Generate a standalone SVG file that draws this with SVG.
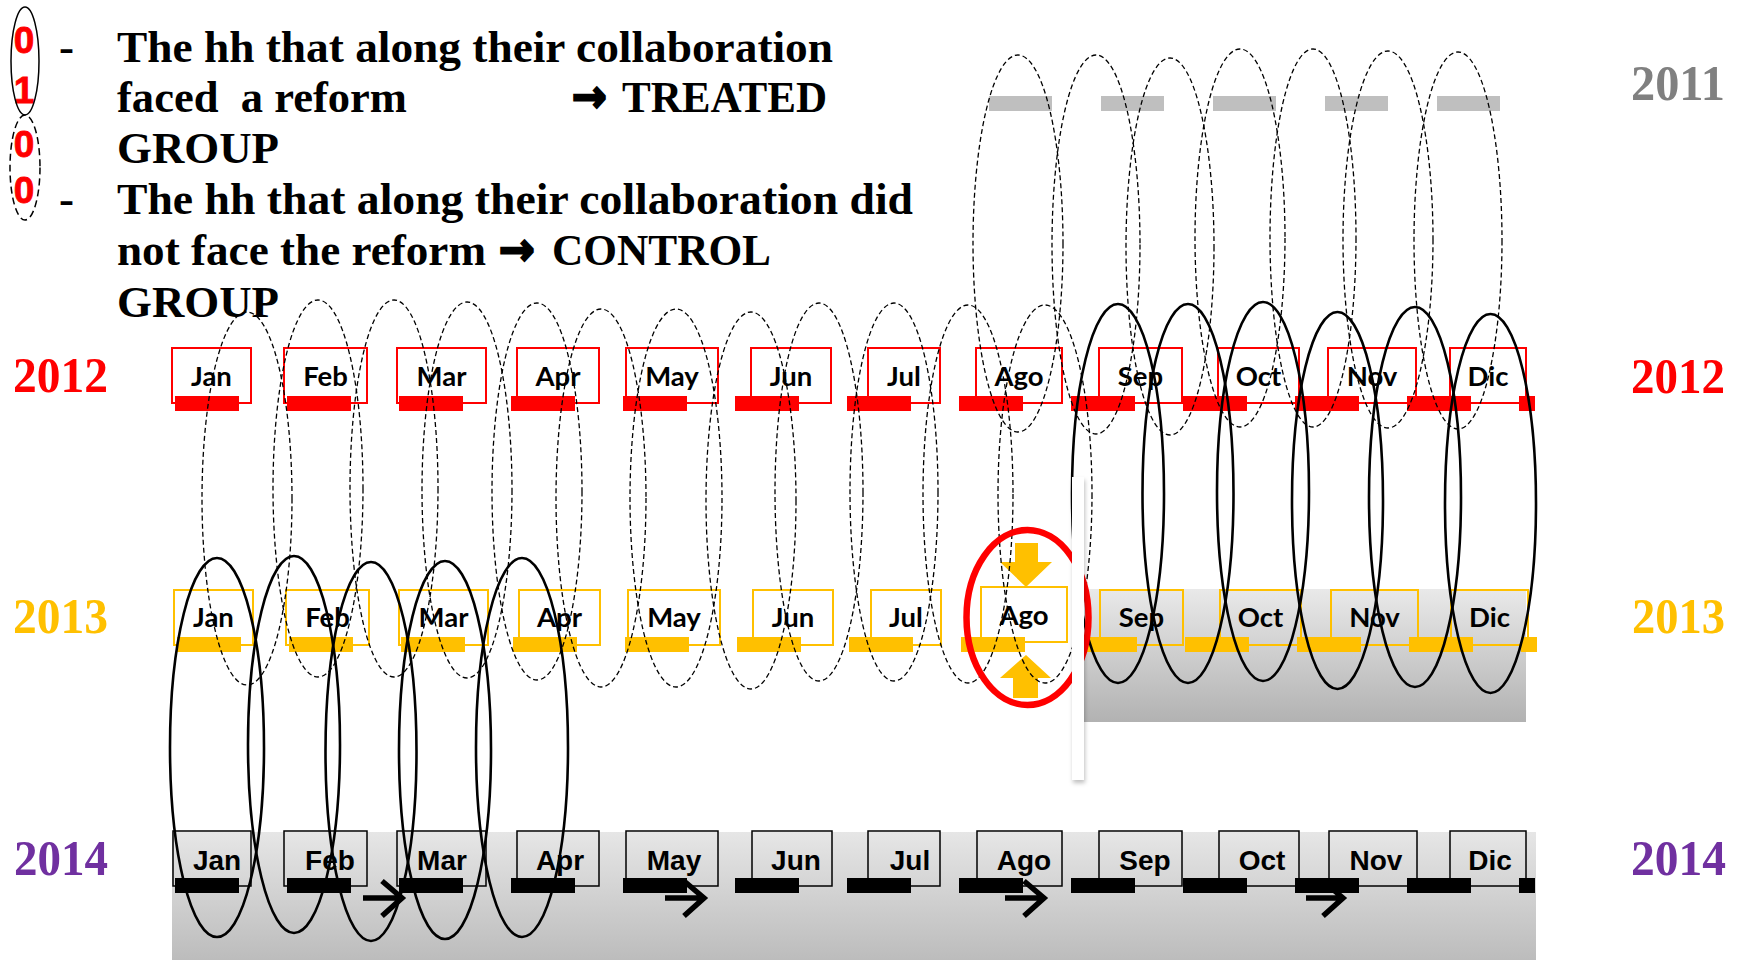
<svg xmlns="http://www.w3.org/2000/svg" width="1739" height="960" viewBox="0 0 1739 960">
  <style>
    .legend { font-family: 'Liberation Serif', 'Times New Roman', serif; font-weight: bold; font-size: 45px; fill: #000; }
    .arrowch { font-family: 'DejaVu Sans', sans-serif; font-weight: bold; font-size: 46px; fill: #000; stroke: #000; stroke-width: 2.2; }
    .digit { font-family: 'Liberation Sans', Arial, sans-serif; font-weight: bold; font-size: 37px; fill: #FF0000; stroke: #FF0000; stroke-width: 0.8; text-anchor: middle; }
    .year { font-family: 'Liberation Serif', 'Times New Roman', serif; font-weight: bold; font-size: 50px; }
    .y11 { fill: #808080; } .y12 { fill: #FF0000; } .y13 { fill: #FFC000; } .y14 { fill: #7030A0; }
    .box12 { fill: none; stroke: #FF0000; stroke-width: 2; }
    .box13 { fill: none; stroke: #FFC000; stroke-width: 2; }
    .box14 { fill: none; stroke: #000; stroke-width: 1.5; }
    .bar11 { fill: #BFBFBF; }
    .bar12 { fill: #FF0000; }
    .bar13 { fill: #FFC000; }
    .bar14 { fill: #000; }
    .mon { font-family: Lato, 'Open Sans', sans-serif; font-weight: bold; font-size: 27.5px; fill: #000; text-anchor: middle; }
    .mon14 { font-family: 'Liberation Sans', Arial, sans-serif; font-weight: bold; font-size: 28px; fill: #000; text-anchor: middle; }
    .dash { fill: none; stroke: #000; stroke-width: 1.3; stroke-dasharray: 5 3; }
    .solid { fill: none; stroke: #000; stroke-width: 2.6; }
    .harrow { fill: none; stroke: #000; stroke-width: 5.5; }
  </style>
  <defs>
    <linearGradient id="grey13" x1="0" y1="0" x2="0" y2="1">
      <stop offset="0" stop-color="#E9E9E9"/>
      <stop offset="1" stop-color="#B2B2B2"/>
    </linearGradient>
    <linearGradient id="grey14" x1="0" y1="0" x2="0" y2="1">
      <stop offset="0" stop-color="#E6E6E6"/>
      <stop offset="1" stop-color="#BCBCBC"/>
    </linearGradient>
    <filter id="shadow" x="-100%" y="-10%" width="300%" height="120%">
      <feDropShadow dx="1" dy="3" stdDeviation="2" flood-color="#000" flood-opacity="0.25"/>
    </filter>
  </defs>

  <rect x="0" y="0" width="1739" height="960" fill="#FFFFFF"/>

  <!-- shaded backgrounds -->
  <rect id="shade-2013" x="1084" y="589" width="442" height="133" fill="url(#grey13)"/>
  <rect id="shade-2014" x="172" y="832" width="1364" height="128" fill="url(#grey14)"/>

  <!-- legend -->
  <g id="legend">
    <text class="digit" x="24" y="53">0</text>
    <text class="digit" x="24" y="103">1</text>
    <text class="digit" x="24" y="157">0</text>
    <text class="digit" x="24" y="203">0</text>
    <ellipse cx="25" cy="61" rx="14" ry="54" fill="none" stroke="#000" stroke-width="1.5"/>
    <ellipse cx="25" cy="167.5" rx="15" ry="52.5" fill="none" stroke="#000" stroke-width="1.5" stroke-dasharray="7 4"/>
    <text class="legend" x="59" y="62">-</text>
    <text class="legend" x="59" y="214">-</text>
    <text class="legend" x="117" y="62" textLength="716" lengthAdjust="spacingAndGlyphs">The hh that along their collaboration</text>
    <text class="legend" x="117" y="112" textLength="290" lengthAdjust="spacingAndGlyphs" xml:space="preserve">faced  a reform</text>
    <text class="arrowch" x="572" y="112" textLength="35" lengthAdjust="spacingAndGlyphs">→</text>
    <text class="legend" x="622" y="112" textLength="205" lengthAdjust="spacingAndGlyphs">TREATED</text>
    <text class="legend" x="117" y="163" textLength="162" lengthAdjust="spacingAndGlyphs">GROUP</text>
    <text class="legend" x="117" y="214" textLength="796" lengthAdjust="spacingAndGlyphs">The hh that along their collaboration did</text>
    <text class="legend" x="117" y="265" textLength="369" lengthAdjust="spacingAndGlyphs">not face the reform</text>
    <text class="arrowch" x="499" y="265" textLength="36" lengthAdjust="spacingAndGlyphs">→</text>
    <text class="legend" x="552" y="265" textLength="219" lengthAdjust="spacingAndGlyphs">CONTROL</text>
    <text class="legend" x="117" y="317" textLength="162" lengthAdjust="spacingAndGlyphs">GROUP</text>
  </g>

  <!-- year labels -->
  <g id="years">
    <text class="year y11" x="1631" y="100" textLength="94" lengthAdjust="spacingAndGlyphs">2011</text>
    <text class="year y12" x="13" y="392" textLength="95" lengthAdjust="spacingAndGlyphs">2012</text>
    <text class="year y12" x="1631" y="393" textLength="94" lengthAdjust="spacingAndGlyphs">2012</text>
    <text class="year y13" x="13" y="633" textLength="95" lengthAdjust="spacingAndGlyphs">2013</text>
    <text class="year y13" x="1632" y="633" textLength="93" lengthAdjust="spacingAndGlyphs">2013</text>
    <text class="year y14" x="14" y="875" textLength="94" lengthAdjust="spacingAndGlyphs">2014</text>
    <text class="year y14" x="1631" y="875" textLength="95" lengthAdjust="spacingAndGlyphs">2014</text>
  </g>

  <!-- 2011 row -->
  <g id="row-2011">
    <rect class="bar11" x="989" y="96" width="63" height="15"/>
    <rect class="bar11" x="1101" y="96" width="63" height="15"/>
    <rect class="bar11" x="1213" y="96" width="63" height="15"/>
    <rect class="bar11" x="1325" y="96" width="63" height="15"/>
    <rect class="bar11" x="1437" y="96" width="63" height="15"/>
  </g>

  <!-- 2012 row -->
  <g id="row-2012">
    <g id="m2012-jan"><rect class="box12" x="172" y="348" width="79" height="55"/><rect class="bar12" x="175" y="396" width="64" height="15"/><text class="mon" x="211.5" y="386">Jan</text></g>
    <g id="m2012-feb"><rect class="box12" x="284" y="348" width="83" height="55"/><rect class="bar12" x="287" y="396" width="64" height="15"/><text class="mon" x="325.5" y="386">Feb</text></g>
    <g id="m2012-mar"><rect class="box12" x="397" y="348" width="89" height="55"/><rect class="bar12" x="399" y="396" width="64" height="15"/><text class="mon" x="441.5" y="386">Mar</text></g>
    <g id="m2012-apr"><rect class="box12" x="517" y="348" width="82" height="55"/><rect class="bar12" x="511" y="396" width="64" height="15"/><text class="mon" x="558" y="386">Apr</text></g>
    <g id="m2012-may"><rect class="box12" x="626" y="348" width="92" height="55"/><rect class="bar12" x="623" y="396" width="64" height="15"/><text class="mon" x="672" y="386">May</text></g>
    <g id="m2012-jun"><rect class="box12" x="751" y="348" width="80" height="55"/><rect class="bar12" x="735" y="396" width="64" height="15"/><text class="mon" x="791" y="386">Jun</text></g>
    <g id="m2012-jul"><rect class="box12" x="868" y="348" width="72" height="55"/><rect class="bar12" x="847" y="396" width="64" height="15"/><text class="mon" x="904" y="386">Jul</text></g>
    <g id="m2012-ago"><rect class="box12" x="976" y="348" width="86" height="55"/><rect class="bar12" x="959" y="396" width="64" height="15"/><text class="mon" x="1019" y="386">Ago</text></g>
    <g id="m2012-sep"><rect class="box12" x="1099" y="348" width="83" height="55"/><rect class="bar12" x="1071" y="396" width="64" height="15"/><text class="mon" x="1140.5" y="386">Sep</text></g>
    <g id="m2012-oct"><rect class="box12" x="1218" y="348" width="81" height="55"/><rect class="bar12" x="1183" y="396" width="64" height="15"/><text class="mon" x="1258.5" y="386">Oct</text></g>
    <g id="m2012-nov"><rect class="box12" x="1328" y="348" width="88" height="55"/><rect class="bar12" x="1295" y="396" width="64" height="15"/><text class="mon" x="1372" y="386">Nov</text></g>
    <g id="m2012-dic"><rect class="box12" x="1450" y="348" width="76" height="55"/><rect class="bar12" x="1407" y="396" width="64" height="15"/><text class="mon" x="1488" y="386">Dic</text></g>
    <rect class="bar12" x="1519" y="396" width="16" height="15"/>
  </g>

  <!-- 2013 row -->
  <g id="row-2013">
    <g id="m2013-jan"><rect class="box13" x="174" y="590" width="79" height="55"/><rect class="bar13" x="177" y="637" width="64" height="15"/><text class="mon" x="213.5" y="627">Jan</text></g>
    <g id="m2013-feb"><rect class="box13" x="286" y="590" width="83" height="55"/><rect class="bar13" x="289" y="637" width="64" height="15"/><text class="mon" x="327.5" y="627">Feb</text></g>
    <g id="m2013-mar"><rect class="box13" x="399" y="590" width="89" height="55"/><rect class="bar13" x="401" y="637" width="64" height="15"/><text class="mon" x="443.5" y="627">Mar</text></g>
    <g id="m2013-apr"><rect class="box13" x="519" y="590" width="81" height="55"/><rect class="bar13" x="513" y="637" width="64" height="15"/><text class="mon" x="559.5" y="627">Apr</text></g>
    <g id="m2013-may"><rect class="box13" x="628" y="590" width="92" height="55"/><rect class="bar13" x="625" y="637" width="64" height="15"/><text class="mon" x="674" y="627">May</text></g>
    <g id="m2013-jun"><rect class="box13" x="753" y="590" width="80" height="55"/><rect class="bar13" x="737" y="637" width="64" height="15"/><text class="mon" x="793" y="627">Jun</text></g>
    <g id="m2013-jul"><rect class="box13" x="871" y="590" width="70" height="55"/><rect class="bar13" x="849" y="637" width="64" height="15"/><text class="mon" x="906" y="627">Jul</text></g>
    <g id="m2013-ago"><rect class="box13" x="981" y="587" width="86" height="55"/><rect class="bar13" x="961" y="637" width="64" height="15"/><text class="mon" x="1024" y="625">Ago</text></g>
    <g id="m2013-sep"><rect class="box13" x="1100" y="590" width="83" height="55"/><rect class="bar13" x="1073" y="637" width="64" height="15"/><text class="mon" x="1141.5" y="627">Sep</text></g>
    <g id="m2013-oct"><rect class="box13" x="1220" y="590" width="81" height="55"/><rect class="bar13" x="1185" y="637" width="64" height="15"/><text class="mon" x="1260.5" y="627">Oct</text></g>
    <g id="m2013-nov"><rect class="box13" x="1331" y="590" width="87" height="55"/><rect class="bar13" x="1297" y="637" width="64" height="15"/><text class="mon" x="1374.5" y="627">Nov</text></g>
    <g id="m2013-dic"><rect class="box13" x="1451" y="590" width="77" height="55"/><rect class="bar13" x="1409" y="637" width="64" height="15"/><text class="mon" x="1489.5" y="627">Dic</text></g>
    <rect class="bar13" x="1521" y="637" width="16" height="15"/>
  </g>

  <!-- 2014 row -->
  <g id="row-2014">
    <g id="m2014-jan"><rect class="box14" x="173" y="831" width="78" height="55"/><rect class="bar14" x="175" y="878" width="64" height="15"/><text class="mon14" x="217" y="870">Jan</text></g>
    <g id="m2014-feb"><rect class="box14" x="284" y="831" width="83" height="55"/><rect class="bar14" x="287" y="878" width="64" height="15"/><text class="mon14" x="330" y="870">Feb</text></g>
    <g id="m2014-mar"><rect class="box14" x="397" y="831" width="89" height="55"/><rect class="bar14" x="399" y="878" width="64" height="15"/><text class="mon14" x="442" y="870">Mar</text></g>
    <g id="m2014-apr"><rect class="box14" x="517" y="831" width="82" height="55"/><rect class="bar14" x="511" y="878" width="64" height="15"/><text class="mon14" x="560" y="870">Apr</text></g>
    <g id="m2014-may"><rect class="box14" x="626" y="831" width="92" height="55"/><rect class="bar14" x="623" y="878" width="64" height="15"/><text class="mon14" x="674" y="870">May</text></g>
    <g id="m2014-jun"><rect class="box14" x="752" y="831" width="80" height="55"/><rect class="bar14" x="735" y="878" width="64" height="15"/><text class="mon14" x="796" y="870">Jun</text></g>
    <g id="m2014-jul"><rect class="box14" x="868" y="831" width="72" height="55"/><rect class="bar14" x="847" y="878" width="64" height="15"/><text class="mon14" x="910" y="870">Jul</text></g>
    <g id="m2014-ago"><rect class="box14" x="977" y="831" width="85" height="55"/><rect class="bar14" x="959" y="878" width="64" height="15"/><text class="mon14" x="1024" y="870">Ago</text></g>
    <g id="m2014-sep"><rect class="box14" x="1099" y="831" width="83" height="55"/><rect class="bar14" x="1071" y="878" width="64" height="15"/><text class="mon14" x="1145" y="870">Sep</text></g>
    <g id="m2014-oct"><rect class="box14" x="1219" y="831" width="80" height="55"/><rect class="bar14" x="1183" y="878" width="64" height="15"/><text class="mon14" x="1262" y="870">Oct</text></g>
    <g id="m2014-nov"><rect class="box14" x="1329" y="831" width="88" height="55"/><rect class="bar14" x="1295" y="878" width="64" height="15"/><text class="mon14" x="1376" y="870">Nov</text></g>
    <g id="m2014-dic"><rect class="box14" x="1450" y="831" width="76" height="55"/><rect class="bar14" x="1407" y="878" width="64" height="15"/><text class="mon14" x="1490" y="870">Dic</text></g>
    <rect class="bar14" x="1519" y="878" width="16" height="15"/>
    <!-- step arrows along 2014 -->
    <path class="harrow" d="M363,898 H401 M382,881 L402,898 L382,916"/>
    <path class="harrow" d="M665,898 H703 M684,881 L704,898 L684,916"/>
    <path class="harrow" d="M1005,898 H1043 M1024,881 L1044,898 L1024,916"/>
    <path class="harrow" d="M1306,898 H1343 M1323,881 L1343,898 L1323,916"/>
  </g>

  <!-- reform marker on 2013 Ago -->
  <g id="reform-arrows" fill="#FFC000">
    <polygon points="1015,543 1038,543 1038,562 1052,562 1026,587 1000,562 1015,562"/>
    <polygon points="1026,655 1051,678 1038,678 1038,698 1013,698 1013,678 1000,678"/>
  </g>

  <!-- links between years -->
  <g id="connectors">
    <!-- 2011 to 2012, dashed -->
    <ellipse class="dash" cx="1018" cy="243.5" rx="45" ry="188.5"/>
    <ellipse class="dash" cx="1096" cy="244.5" rx="44" ry="189.5"/>
    <ellipse class="dash" cx="1170" cy="246.5" rx="44" ry="188.5"/>
    <ellipse class="dash" cx="1240" cy="238" rx="45" ry="189"/>
    <ellipse class="dash" cx="1313" cy="238" rx="43" ry="189"/>
    <ellipse class="dash" cx="1388" cy="239.5" rx="45" ry="188.5"/>
    <ellipse class="dash" cx="1458" cy="240.5" rx="44" ry="188.5"/>
    <!-- 2012 to 2013, dashed -->
    <ellipse class="dash" cx="247" cy="498.5" rx="45" ry="186.5"/>
    <ellipse class="dash" cx="318" cy="488.5" rx="45" ry="188.5"/>
    <ellipse class="dash" cx="394" cy="488.5" rx="44" ry="188.5"/>
    <ellipse class="dash" cx="467" cy="490" rx="45" ry="188"/>
    <ellipse class="dash" cx="537" cy="491.5" rx="45" ry="188.5"/>
    <ellipse class="dash" cx="601" cy="498" rx="45" ry="189"/>
    <ellipse class="dash" cx="676" cy="498" rx="46" ry="189"/>
    <ellipse class="dash" cx="751" cy="500.5" rx="45" ry="188.5"/>
    <ellipse class="dash" cx="819" cy="492" rx="44" ry="189"/>
    <ellipse class="dash" cx="894" cy="492" rx="44" ry="189"/>
    <ellipse class="dash" cx="968" cy="494" rx="45" ry="189"/>
    <ellipse class="dash" cx="1045" cy="494" rx="47" ry="189"/>
    <!-- 2012 to 2013, solid -->
    <ellipse class="solid" cx="1118" cy="493.5" rx="46" ry="189.5"/>
    <ellipse class="solid" cx="1188" cy="493.5" rx="45.5" ry="189.5"/>
    <ellipse class="solid" cx="1263" cy="491.5" rx="46" ry="189.5"/>
    <ellipse class="solid" cx="1337.5" cy="500.5" rx="45.5" ry="188.5"/>
    <ellipse class="solid" cx="1415" cy="497" rx="46" ry="190"/>
    <ellipse class="solid" cx="1490.5" cy="503.5" rx="45.5" ry="189.5"/>
    <!-- 2013 to 2014, solid -->
    <ellipse class="solid" cx="217" cy="747.5" rx="47" ry="189.5"/>
    <ellipse class="solid" cx="294" cy="744.5" rx="46" ry="188.5"/>
    <ellipse class="solid" cx="371" cy="751.5" rx="45.5" ry="189.5"/>
    <ellipse class="solid" cx="445" cy="750" rx="46" ry="189"/>
    <ellipse class="solid" cx="522" cy="747.5" rx="46" ry="189.5"/>
  </g>

  <!-- reform highlight -->
  <ellipse id="reform-ring" cx="1027.5" cy="617.5" rx="61" ry="87.5" fill="none" stroke="#FF0000" stroke-width="6.5"/>

  <!-- divider strip -->
  <rect id="divider" x="1072" y="477" width="12" height="303" fill="#FFFFFF" filter="url(#shadow)"/>
</svg>
